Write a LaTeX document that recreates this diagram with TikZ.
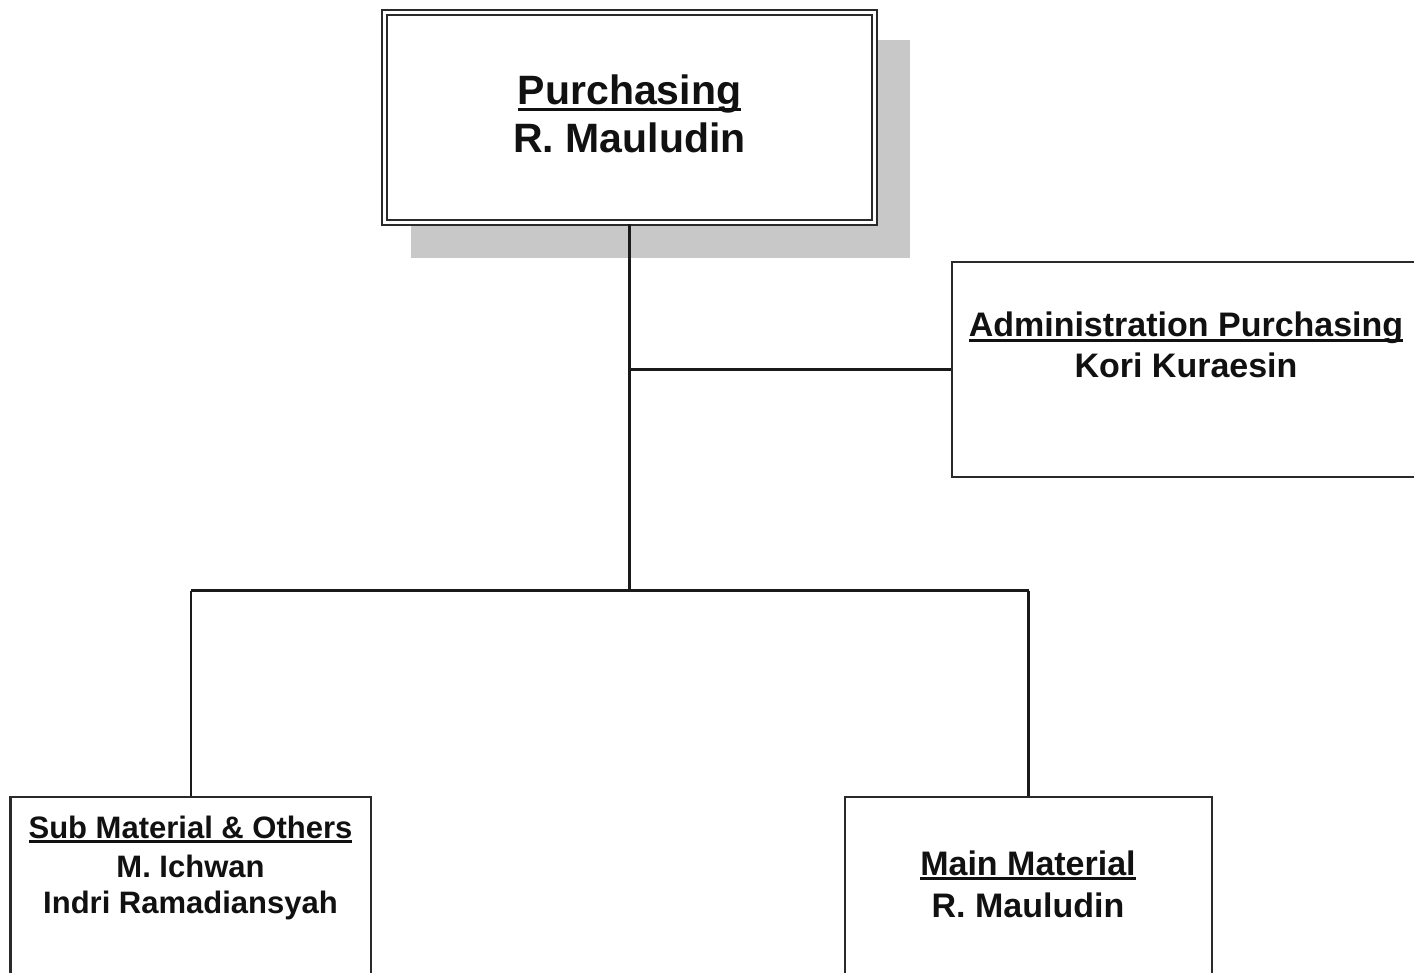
\documentclass[tikz,border=0pt]{standalone}
\usepackage{fontspec}
\setmainfont{Liberation Sans}
\definecolor{linecol}{HTML}{1A1A1A}
\definecolor{boxcol}{HTML}{2A2A2A}
\definecolor{shadowcol}{HTML}{C8C8C8}
\definecolor{textcol}{HTML}{111111}
\newcommand\ulx[2][5pt]{\setbox0\hbox{#2}\rlap{\rule[-#1]{\wd0}{2.6pt}}\box0}
\tikzset{
  orgbox/.style={draw=boxcol, line width=2.4pt, fill=white, rectangle, inner sep=0pt},
  topstyle/.style={draw=boxcol, line width=2.2pt, double=white, double distance=3.2pt, fill=white, rectangle, inner sep=0pt},
  conn/.style={draw=linecol, line width=2.4pt},
  lbl/.style={anchor=base, inner sep=0pt, text=textcol, font=\bfseries}
}
\begin{document}
\begin{tikzpicture}[x=1pt,y=-1pt]
\useasboundingbox (0,0) rectangle (1414,973);
\clip (0,0) rectangle (1414,973);
\fill[white] (0,0) rectangle (1414,973);
% shadow
\fill[shadowcol] (411,40) rectangle (910,258);
% boxes
\node[topstyle, minimum width=490pt, minimum height=210pt] (top) at (629.5,117.5) {};
\node[orgbox, minimum width=468pt, minimum height=215pt] (admin) at (1186,369.5) {};
\node[orgbox, minimum width=360.5pt, minimum height=220pt] (sub) at (190.75,907) {};
\node[orgbox, minimum width=367pt, minimum height=220pt] (main) at (1028.5,907) {};
% connectors
\coordinate (j1) at (629.5,590.5);
\draw[conn] (top.south) -- (j1);
\draw[conn] (top.south |- admin.west) -- (admin.west);
\draw[conn] (j1 -| sub.north) -- (j1 -| main.north);
\draw[conn] (j1 -| sub.north) -- (sub.north);
\draw[conn] (j1 -| main.north) -- (main.north);
% texts
\node[lbl, font=\bfseries\fontsize{41}{47}\selectfont] (t1) at (629.5,105) {\ulx[6pt]{Purchasing}};
\node[lbl, font=\bfseries\fontsize{41}{47}\selectfont] (t2) at (629.5,153) {R. Mauludin};
\node[lbl, font=\bfseries\fontsize{34}{40}\selectfont] (a1) at (1186,337) {\ulx[5pt]{Administration Purchasing}};
\node[lbl, font=\bfseries\fontsize{34}{40}\selectfont] (a2) at (1186,378) {Kori Kuraesin};
\node[lbl, font=\bfseries\fontsize{31}{37}\selectfont] (s1) at (190.5,838) {\ulx[5pt]{Sub Material \& Others}};
\node[lbl, font=\bfseries\fontsize{31}{37}\selectfont] (s2) at (190.5,877) {M. Ichwan};
\node[lbl, font=\bfseries\fontsize{31}{37}\selectfont] (s3) at (190.5,913) {Indri Ramadiansyah};
\node[lbl, font=\bfseries\fontsize{34}{40}\selectfont] (m1) at (1028,875) {\ulx[5pt]{Main Material}};
\node[lbl, font=\bfseries\fontsize{34}{40}\selectfont] (m2) at (1028,917) {R. Mauludin};
\end{tikzpicture}
\end{document}
